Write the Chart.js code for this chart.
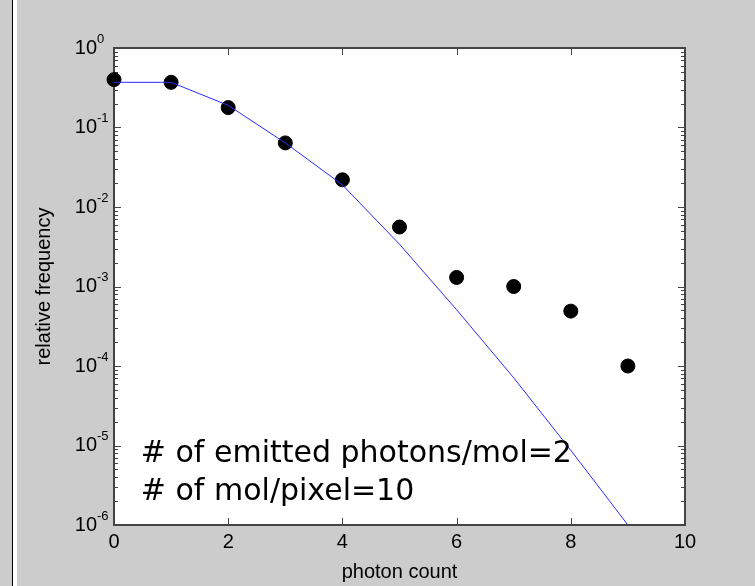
<!DOCTYPE html>
<html>
<head>
<meta charset="utf-8">
<script src="https://cdn.jsdelivr.net/npm/chart.js@4/dist/chart.umd.min.js"></script>
<style>
  html, body { margin: 0; padding: 0; background: #cccccc; }
  #wrap { position: relative; width: 755px; height: 586px; overflow: hidden; }
  #c { position: absolute; left: 0; top: 0; }
  .edge-dark { position: absolute; left: 12px; top: 0; width: 1px; height: 586px; background: #000; }
  .edge-light { position: absolute; left: 13px; top: 0; width: 4px; height: 586px; background: #fff; }
</style>
</head>
<body>
<div id="wrap">
  <div class="edge-dark"></div>
  <div class="edge-light"></div>
  <canvas id="c" width="755" height="586"></canvas>
</div>
<script>
// photon counting histogram vs model
const photonCounts = [0, 1, 2, 3, 4, 5, 6, 7, 8, 9];
const measuredFreq = [0.40, 0.37, 0.178, 0.064, 0.022, 0.0056, 0.0013, 0.0010, 0.00049, 0.0001];
const modelFreq = [0.37, 0.37, 0.19, 0.064, 0.019, 0.0034, 0.00051, 0.000071, 0.0000087, 0.000001];

const xTicks = [0, 2, 4, 6, 8, 10];
const yDecades = [0, -1, -2, -3, -4, -5, -6];
const xTitle = 'photon count';
const yTitle = 'relative frequency';
const noteLines = ['# of emitted photons/mol=2', '# of mol/pixel=10'];

const LABEL_FONT = '"Liberation Sans", Arial, sans-serif';
const NOTE_FONT = '"Comic Sans MS", "DejaVu Sans", sans-serif';
const AXIS_COLOR = '#444';

const matlabAxes = {
    id: 'matlabAxes',
    beforeDraw(chart) {
        const a = chart.chartArea;
        const ctx = chart.ctx;
        ctx.save();
        ctx.fillStyle = '#ffffff';
        ctx.fillRect(a.left, a.top, a.right - a.left, a.bottom - a.top);
        ctx.restore();
    },
    beforeDatasetsDraw(chart) {
        const a = chart.chartArea;
        const ctx = chart.ctx;
        const xs = chart.scales.x;
        const ys = chart.scales.y;
        ctx.save();
        ctx.strokeStyle = AXIS_COLOR;
        ctx.lineWidth = 1;

        // x ticks, inward on bottom and top
        xTicks.forEach(v => {
            const px = Math.round(xs.getPixelForValue(v)) + 0.5;
            ctx.beginPath();
            ctx.moveTo(px, a.bottom); ctx.lineTo(px, a.bottom - 7);
            ctx.moveTo(px, a.top); ctx.lineTo(px, a.top + 7);
            ctx.stroke();
        });

        // y ticks, major and minor, inward on left and right
        yDecades.forEach(e => {
            const mults = e === 0 ? [1] : [1, 2, 3, 4, 5, 6, 7, 8, 9];
            mults.forEach(m => {
                const py = Math.round(ys.getPixelForValue(m * Math.pow(10, e))) + 0.5;
                const len = m === 1 ? 7 : 4;
                ctx.beginPath();
                ctx.moveTo(a.left, py); ctx.lineTo(a.left + len, py);
                ctx.moveTo(a.right, py); ctx.lineTo(a.right - len, py);
                ctx.stroke();
            });
        });

        // box
        ctx.lineWidth = 2;
        ctx.strokeRect(a.left, a.top, a.right - a.left, a.bottom - a.top);
        ctx.restore();
    },
    afterDraw(chart) {
        const a = chart.chartArea;
        const ctx = chart.ctx;
        const xs = chart.scales.x;
        const ys = chart.scales.y;
        ctx.save();
        ctx.fillStyle = '#000';

        // x tick labels
        ctx.font = '20px ' + LABEL_FONT;
        ctx.textAlign = 'center';
        ctx.textBaseline = 'middle';
        xTicks.forEach(v => {
            ctx.fillText(String(v), xs.getPixelForValue(v), a.bottom + 17);
        });

        // y tick labels 10^e
        yDecades.forEach(e => {
            const py = ys.getPixelForValue(Math.pow(10, e));
            ctx.font = '20px ' + LABEL_FONT;
            ctx.textAlign = 'right';
            ctx.fillText('10', a.left - 17, py);
            ctx.font = '13px ' + LABEL_FONT;
            ctx.textAlign = 'left';
            ctx.fillText(e === 0 ? '0' : String(e), a.left - 17, py - 9);
        });

        // axis titles
        ctx.font = '20px ' + LABEL_FONT;
        ctx.textAlign = 'center';
        ctx.fillText(xTitle, (a.left + a.right) / 2, a.bottom + 47);
        ctx.translate(44, (a.top + a.bottom) / 2);
        ctx.rotate(-Math.PI / 2);
        ctx.fillText(yTitle, 0, 0);
        ctx.setTransform(1, 0, 0, 1, 0, 0);

        // annotation
        ctx.font = '30px ' + NOTE_FONT;
        ctx.textAlign = 'left';
        ctx.textBaseline = 'alphabetic';
        const nx = xs.getPixelForValue(0.47);
        const ny = ys.getPixelForValue(6.2e-6);
        noteLines.forEach((t, i) => ctx.fillText(t, nx, ny + i * 38));
        ctx.restore();
    }
};

new Chart(document.getElementById('c'), {
    type: 'scatter',
    data: {
        datasets: [
            {
                label: 'model',
                data: photonCounts.map((x, i) => ({ x: x, y: modelFreq[i] })),
                showLine: true,
                borderColor: '#2b2bff',
                borderWidth: 1,
                pointRadius: 0,
                fill: false,
                tension: 0
            },
            {
                label: 'measured',
                data: photonCounts.map((x, i) => ({ x: x, y: measuredFreq[i] })),
                showLine: false,
                pointRadius: 7,
                pointBackgroundColor: '#000',
                pointBorderColor: '#000',
                pointBorderWidth: 1,
                clip: false
            }
        ]
    },
    options: {
        responsive: false,
        animation: false,
        devicePixelRatio: 1,
        layout: { padding: { left: 114, top: 48, right: 70, bottom: 61 } },
        plugins: {
            legend: { display: false },
            tooltip: { enabled: false }
        },
        scales: {
            x: { type: 'linear', min: 0, max: 10, display: false },
            y: { type: 'logarithmic', min: 1e-6, max: 1, display: false }
        }
    },
    plugins: [matlabAxes]
});
</script>
</body>
</html>
